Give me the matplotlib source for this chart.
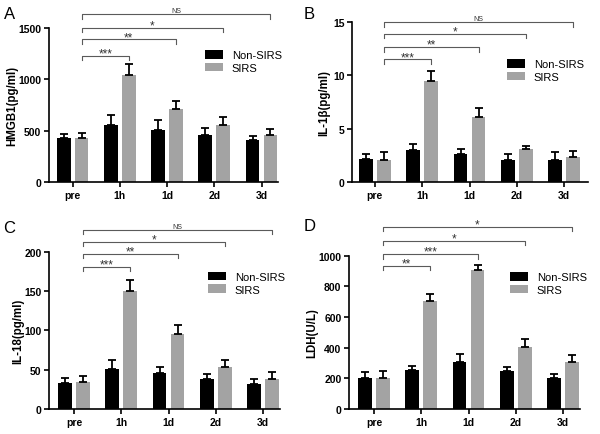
import matplotlib.pyplot as plt
import numpy as np

plt.rcParams['font.family'] = ['Liberation Sans', 'DejaVu Sans']

times = ['pre', '1h', '1d', '2d', '3d']
groups = ['Non-SIRS', 'SIRS']

# HMGB1 (pg/ml)
hmgb1_non = [428, 559, 510, 461, 412]
hmgb1_non_err = [42, 95, 91, 68, 42]
hmgb1_sirs = [428, 1045, 709, 559, 461]
hmgb1_sirs_err = [52, 107, 82, 72, 59]

# IL-1b (pg/ml)
il1b_non = [2.2, 3.0, 2.6, 2.1, 2.1]
il1b_non_err = [0.4, 0.6, 0.5, 0.5, 0.7]
il1b_sirs = [2.1, 9.5, 6.1, 3.1, 2.35]
il1b_sirs_err = [0.7, 0.9, 0.8, 0.3, 0.55]

# IL-18 (pg/ml)
il18_non = [33, 51, 46, 38, 32]
il18_non_err = [7, 11, 8, 7, 6]
il18_sirs = [34, 150, 95, 54, 38]
il18_sirs_err = [8, 14, 12, 9, 9]

# LDH (U/L)
ldh_non = [204, 256, 304, 246, 204]
ldh_non_err = [39, 27, 53, 26, 22]
ldh_sirs = [204, 707, 907, 407, 304]
ldh_sirs_err = [46, 43, 34, 47, 50]

# significance of SIRS pre vs 1h, 1d, 2d, 3d
sig_hmgb1 = ['***', '**', '*', 'NS']
sig_il1b = ['***', '**', '*', 'NS']
sig_il18 = ['***', '**', '*', 'NS']
sig_ldh = ['**', '***', '*', '*']

# bracket heights (data units)
br_hmgb1 = [1230, 1390, 1505, 1636]
br_il1b = [11.5, 12.65, 13.9, 15.0]
br_il18 = [181, 198, 213, 228]
br_ldh = [935, 1011, 1098, 1189]

BLACK = '#000000'
GREY = '#a3a3a3'
BRK = '#5a5a5a'

fig = plt.figure(figsize=(6.0, 4.35), dpi=100)


def panel(rect, xlim, non, non_err, sirs, sirs_err, yticks, ylabel, ylab_x,
          sig, levels, leg_xy, letter, letter_xy):
    ax = fig.add_axes(rect)
    x = np.arange(len(times))
    off, w = 0.19, 0.29
    ek = dict(ecolor='k', elinewidth=1.3, capsize=2.6, capthick=1.3)
    ax.bar(x - off, non, w, color=BLACK, label=groups[0],
           yerr=[np.zeros(len(non)), non_err], error_kw=ek)
    ax.bar(x + off, sirs, w, color=GREY, label=groups[1],
           yerr=[np.zeros(len(sirs)), sirs_err], error_kw=ek)

    ax.set_xlim(*xlim)
    ax.set_ylim(yticks[0], yticks[-1])
    ax.set_xticks(x)
    ax.set_xticklabels(times)
    ax.set_yticks(yticks)
    for s in ['top', 'right']:
        ax.spines[s].set_visible(False)
    for s in ['left', 'bottom']:
        ax.spines[s].set_linewidth(1.2)
    ax.tick_params(direction='out', length=3.5, width=1.2, labelsize=7.5, pad=2)
    for lb in ax.get_xticklabels() + ax.get_yticklabels():
        lb.set_fontweight('bold')
    ax.set_ylabel(ylabel, fontsize=8.3, fontweight='bold')
    ax.yaxis.set_label_coords(ylab_x, 0.5)

    # brackets, drawn above the axes
    bbox = ax.get_position()
    hpx = bbox.height * 435
    drop = (yticks[-1] - yticks[0]) / hpx * 4.5
    x0 = 0 + off
    for i, (lab, yl) in enumerate(zip(sig, levels)):
        x1 = i + 1 + off
        ax.plot([x0, x0, x1, x1], [yl - drop, yl, yl, yl - drop], color=BRK,
                lw=0.8, clip_on=False)
        if lab == 'NS':
            ax.annotate(lab, xy=((x0 + x1) / 2, yl), xytext=(0, 1.5),
                        textcoords='offset points', ha='center', va='baseline',
                        fontsize=5, color='#333333', annotation_clip=False)
        else:
            ax.annotate(lab, xy=((x0 + x1) / 2, yl), xytext=(0, -0.5),
                        textcoords='offset points', ha='center', va='baseline',
                        fontsize=8.5, color='#333333', annotation_clip=False)

    ax.legend(loc='upper left', bbox_to_anchor=leg_xy, frameon=False,
              fontsize=8, handlelength=1.62, handleheight=0.81,
              labelspacing=0.22, handletextpad=0.8, borderpad=0,
              borderaxespad=0)
    fig.text(letter_xy[0], letter_xy[1], letter, fontsize=12, va='top')
    return ax


panel([0.0817, 0.579, 0.3817, 0.354], (-0.5, 4.35), hmgb1_non, hmgb1_non_err,
      hmgb1_sirs, hmgb1_sirs_err, [0, 500, 1000, 1500], 'HMGB1(pg/ml)', -0.135,
      sig_hmgb1, br_hmgb1, (0.681, 0.857), 'A', (0.006, 0.985))
panel([0.5867, 0.579, 0.3933, 0.368], (-0.48, 4.5), il1b_non, il1b_non_err,
      il1b_sirs, il1b_sirs_err, [0, 5, 10, 15], 'IL-1β(pg/ml)', -0.093,
      sig_il1b, br_il1b, (0.657, 0.769), 'B', (0.506, 0.985))
panel([0.0817, 0.0575, 0.385, 0.361], (-0.53, 4.36), il18_non, il18_non_err,
      il18_sirs, il18_sirs_err, [0, 50, 100, 150, 200], 'IL-18(pg/ml)', -0.108,
      sig_il18, br_il18, (0.688, 0.873), 'C', (0.006, 0.493))
panel([0.5817, 0.0575, 0.385, 0.352], (-0.53, 4.36), ldh_non, ldh_non_err,
      ldh_sirs, ldh_sirs_err, [0, 200, 400, 600, 800, 1000], 'LDH(U/L)', -0.134,
      sig_ldh, br_ldh, (0.697, 0.893), 'D', (0.506, 0.497))

fig.savefig('out.png', dpi=100)
